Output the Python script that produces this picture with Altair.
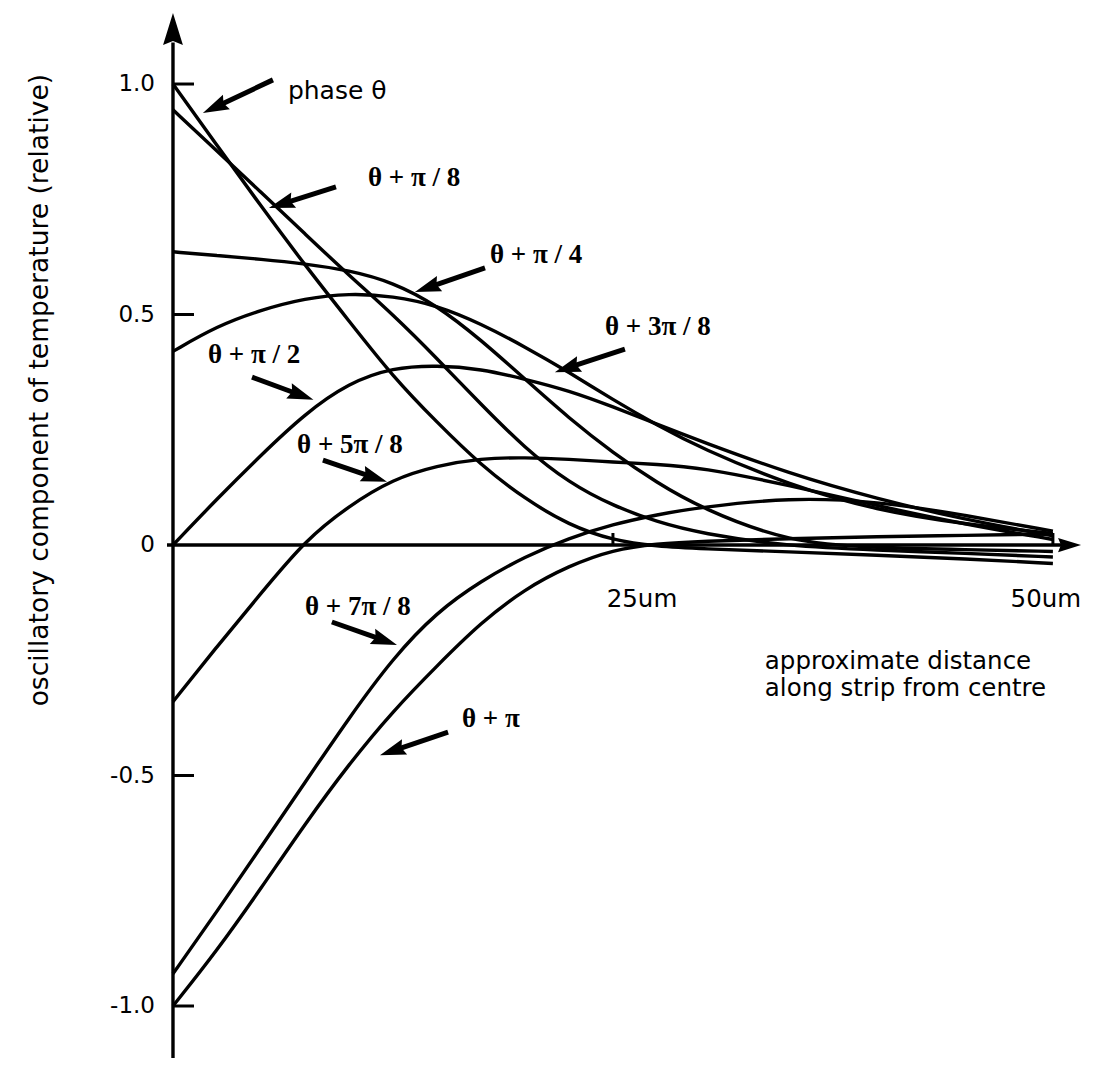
import math
import altair as alt
import pandas as pd

# ---------------- data ----------------
x_um = [0, 2.5, 5, 7.5, 10, 12.5, 15, 17.5, 20, 22.5, 25, 27.5, 30, 35, 40, 45, 50]

phase_0   = [1.0, 0.867, 0.735, 0.607, 0.486, 0.365, 0.266, 0.173, 0.100, 0.043, 0.010, -0.003, -0.008, -0.015, -0.022, -0.030, -0.040]
phase_p8  = [0.944, 0.855, 0.765, 0.675, 0.585, 0.50, 0.405, 0.305, 0.21, 0.135, 0.085, 0.05, 0.025, -0.003, -0.011, -0.018, -0.026]
phase_p4  = [0.636, 0.628, 0.620, 0.610, 0.596, 0.570, 0.52, 0.445, 0.36, 0.275, 0.20, 0.135, 0.08, 0.005, -0.006, -0.01, -0.014]
phase_3p8 = [0.42, 0.475, 0.51, 0.535, 0.546, 0.54, 0.52, 0.48, 0.43, 0.375, 0.315, 0.26, 0.21, 0.13, 0.075, 0.045, 0.025]
phase_p2  = [0.0, 0.10, 0.195, 0.285, 0.352, 0.385, 0.39, 0.382, 0.36, 0.335, 0.30, 0.262, 0.225, 0.155, 0.10, 0.055, 0.02]
phase_5p8 = [-0.34, -0.22, -0.105, 0.010, 0.085, 0.143, 0.172, 0.188, 0.19, 0.186, 0.18, 0.175, 0.168, 0.13, 0.085, 0.045, 0.012]
phase_7p8 = [-0.93, -0.795, -0.655, -0.515, -0.375, -0.245, -0.145, -0.078, -0.025, 0.015, 0.045, 0.066, 0.082, 0.103, 0.095, 0.065, 0.03]
phase_pi  = [-1.0, -0.88, -0.745, -0.605, -0.475, -0.36, -0.262, -0.168, -0.095, -0.045, -0.01, 0.003, 0.008, 0.014, 0.018, 0.021, 0.024]

series_names = ["θ", "θ+π/8", "θ+π/4", "θ+3π/8", "θ+π/2", "θ+5π/8", "θ+7π/8", "θ+π"]
series_vals = [phase_0, phase_p8, phase_p4, phase_3p8, phase_p2, phase_5p8, phase_7p8, phase_pi]

y_tick_values = [1.0, 0.5, 0.0, -0.5, -1.0]
y_tick_labels = ["1.0", "0.5", "0", "-0.5", "-1.0"]
x_tick_values = [25, 50]
x_tick_labels = ["25um", "50um"]

curve_labels = ["phase θ", "θ + π / 8", "θ + π / 4", "θ + 3π / 8",
                "θ + π / 2", "θ + 5π / 8", "θ + 7π / 8", "θ + π"]

y_title = "oscillatory component of temperature (relative)"
x_title = ["approximate distance", "along strip from centre"]

# ---------------- layout (annotation placement, in data units) ----------------
W, H = 1077, 1050
X_DOM = [-9.375, 51.824]
Y_DOM = [-1.1128, 1.1649]
PX_X = W / (X_DOM[1] - X_DOM[0])
PX_Y = H / (Y_DOM[1] - Y_DOM[0])

label_pos = [(6.53, 0.985), (11.08, 0.796), (18.01, 0.629), (24.55, 0.473),
             (1.99, 0.412), (7.05, 0.217), (7.5, -0.134), (16.42, -0.377)]
arrow_tail = [(5.68, 1.009), (9.26, 0.777), (17.73, 0.601), (25.68, 0.425),
              (4.49, 0.364), (8.52, 0.184), (9.03, -0.167), (15.63, -0.406)]
arrow_tip = [(1.70, 0.937), (5.45, 0.731), (13.75, 0.549), (21.70, 0.375),
             (7.98, 0.315), (12.16, 0.137), (12.73, -0.217), (11.76, -0.456)]
x_label_pos = [26.65, 49.6]
x_title_pos = [(33.63, -0.253), (33.63, -0.312)]

xs = alt.Scale(domain=X_DOM, nice=False, zero=False)
ys = alt.Scale(domain=Y_DOM, nice=False, zero=False)
X = lambda f: alt.X(f, type="quantitative", scale=xs, axis=None)
Y = lambda f: alt.Y(f, type="quantitative", scale=ys, axis=None)

rows = []
for name, vals in zip(series_names, series_vals):
    for xv, yv in zip(x_um, vals):
        rows.append({"series": name, "x": xv, "y": yv})
df = pd.DataFrame(rows)

lines = alt.Chart(df).mark_line(color="black", strokeWidth=3.4, interpolate="basis").encode(
    x=X("x"), y=Y("y"), detail="series:N"
)

# axes as rules
axis_df = pd.DataFrame([
    {"x": 0, "y": Y_DOM[0], "x2": 0, "y2": 1.09},
    {"x": -0.34, "y": 0, "x2": 50.8, "y2": 0},
])
axis_rules = alt.Chart(axis_df).mark_rule(color="black", strokeWidth=3.4).encode(
    x=X("x"), y=Y("y"), x2="x2", y2="y2"
)

# tick marks
tick_rows = []
for v in y_tick_values:
    if v != 0:
        tick_rows.append({"x": 0, "y": v, "x2": 21 / PX_X, "y2": v})
for v in x_tick_values:
    tick_rows.append({"x": v, "y": 0, "x2": v, "y2": 12 / PX_Y})
ticks = alt.Chart(pd.DataFrame(tick_rows)).mark_rule(color="black", strokeWidth=3).encode(
    x=X("x"), y=Y("y"), x2="x2", y2="y2"
)

ytl = alt.Chart(pd.DataFrame({"y": y_tick_values, "t": y_tick_labels, "x": [-18 / PX_X] * 5})).mark_text(
    align="right", baseline="middle", font="DejaVu Sans", fontSize=23, color="black"
).encode(x=X("x"), y=Y("y"), text="t:N")

xtl = alt.Chart(pd.DataFrame({"x": x_label_pos, "t": x_tick_labels, "y": [-55 / PX_Y] * 2})).mark_text(
    align="center", baseline="middle", font="DejaVu Sans", fontSize=24.5, color="black"
).encode(x=X("x"), y=Y("y"), text="t:N")

ytitle = alt.Chart(pd.DataFrame({"x": [-7.56], "y": [0.336], "t": [y_title]})).mark_text(
    align="center", baseline="middle", angle=270, font="DejaVu Sans", fontSize=26.5, color="black"
).encode(x=X("x"), y=Y("y"), text="t:N")

xtitle = alt.Chart(pd.DataFrame({"x": [p[0] for p in x_title_pos], "y": [p[1] for p in x_title_pos],
                                 "t": x_title})).mark_text(
    align="left", baseline="middle", font="DejaVu Sans", fontSize=24.5, color="black"
).encode(x=X("x"), y=Y("y"), text="t:N")

# curve labels
lab_df = pd.DataFrame({"x": [p[0] for p in label_pos], "y": [p[1] for p in label_pos], "t": curve_labels})
lab_sans = alt.Chart(lab_df.iloc[:1]).mark_text(
    align="left", baseline="middle", font="DejaVu Sans", fontSize=25, color="black"
).encode(x=X("x"), y=Y("y"), text="t:N")
lab_serif = alt.Chart(lab_df.iloc[1:]).mark_text(
    align="left", baseline="middle", font="Liberation Serif", fontSize=27, fontWeight="bold", color="black"
).encode(x=X("x"), y=Y("y"), text="t:N")

# arrows: shaft + head
HEAD_LEN = 26.0
shaft_rows, head_rows = [], []
for (tx, ty), (hx, hy) in zip(arrow_tail, arrow_tip):
    dxp = (hx - tx) * PX_X
    dyp = -(hy - ty) * PX_Y
    L = math.hypot(dxp, dyp)
    ux, uy = dxp / L, dyp / L
    bx = hx - ux * HEAD_LEN * 0.7 / PX_X
    by = hy + uy * HEAD_LEN * 0.7 / PX_Y
    shaft_rows.append({"x": tx, "y": ty, "x2": bx, "y2": by})
    ang = math.degrees(math.atan2(dyp, dxp)) % 360
    head_rows.append({"x": hx, "y": hy, "angle": ang, "size": HEAD_LEN ** 2})

# axis arrowheads
head_rows.append({"x": 0, "y": 1.154, "angle": 270.0, "size": 32.0 ** 2})
head_rows.append({"x": 51.6, "y": 0, "angle": 0.0, "size": 23.0 ** 2})

shafts = alt.Chart(pd.DataFrame(shaft_rows)).mark_rule(color="black", strokeWidth=5).encode(
    x=X("x"), y=Y("y"), x2="x2", y2="y2"
)
HEAD_PATH = "M 0 0 L -2 -0.62 L -1.75 0 L -2 0.62 Z"
heads = alt.Chart(pd.DataFrame(head_rows)).mark_point(
    shape=HEAD_PATH, filled=True, color="black", opacity=1, strokeWidth=0
).encode(
    x=X("x"), y=Y("y"),
    angle=alt.Angle("angle:Q", scale=None),
    size=alt.Size("size:Q", scale=None),
)

chart = alt.layer(
    axis_rules, ticks, lines, shafts, heads, ytl, xtl, ytitle, xtitle, lab_sans, lab_serif
).properties(
    width=W, height=H, padding=0, background="white",
    autosize=alt.AutoSizeParams(type="none"),
).configure_view(stroke=None)

chart.save("out.html", embed_options={"renderer": "svg", "actions": False})
